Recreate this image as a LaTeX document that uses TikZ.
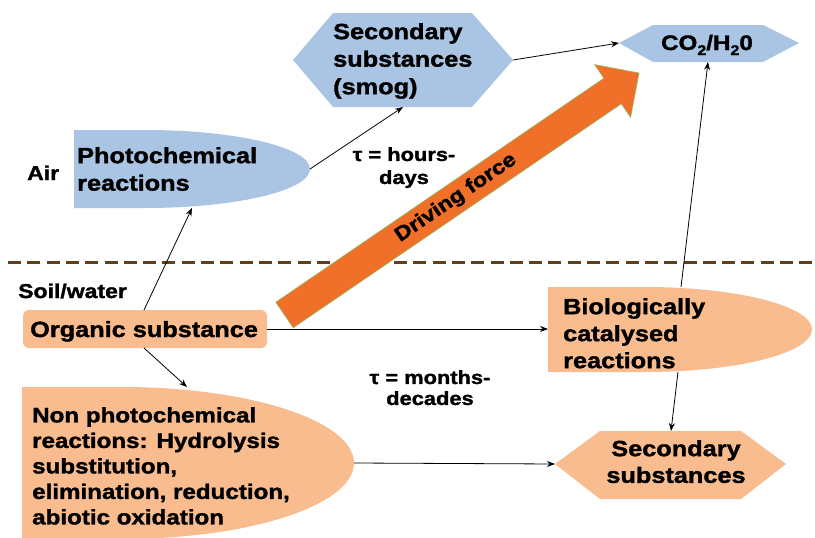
\documentclass[tikz,border=0pt]{standalone}
\usepackage{fontspec}
\setmainfont{Liberation Sans}[FakeStretch=1.15, BoldFeatures={FakeBold=1.5}]
\usetikzlibrary{arrows.meta}

\definecolor{skyfill}{RGB}{170,196,228}
\definecolor{peachfill}{RGB}{249,188,142}
\definecolor{forceorange}{RGB}{240,112,42}
\definecolor{forceedge}{RGB}{150,185,95}
\definecolor{soilline}{RGB}{99,62,26}

\tikzset{
  boxtext/.style={font=\bfseries\fontsize{22}{27.5}\selectfont, align=left, inner sep=0pt},
  sidetext/.style={font=\bfseries\fontsize{20}{24}\selectfont, inner sep=0pt},
  tautext/.style={font=\bfseries\fontsize{19}{23}\selectfont, align=center, inner sep=0pt},
  link/.style={line width=0.8pt, -{Stealth[length=8pt,width=6pt]}},
}

\begin{document}
\begin{tikzpicture}[x=1pt,y=-1pt]
\useasboundingbox (0,0) rectangle (815,538);

% ---- air compartment ----
\fill[skyfill] (293,60) -- (333,13) -- (472,13) -- (513,60) -- (472,107) -- (333,107) -- cycle;
\node[boxtext, anchor=north west] (smog) at (333,23) {Secondary\\substances\\(smog)};

\fill[skyfill] (619,43) -- (653,25) -- (763,25) -- (799,43) -- (763,62) -- (653,62) -- cycle;
\node[font=\bfseries\fontsize{21}{24}\selectfont, inner sep=0pt, anchor=base] (co2) at (707,50)
  {CO\raisebox{-5pt}{\fontsize{14}{14}\selectfont 2}/H\raisebox{-5pt}{\fontsize{14}{14}\selectfont 2}0};

\fill[skyfill] (74,130) -- (145,130) arc[start angle=90, end angle=-90, x radius=165pt, y radius=39pt] -- (74,208) -- cycle;
\node[boxtext, anchor=north west] (photo) at (77,147) {Photochemical\\reactions};

\node[sidetext, anchor=base west] (air) at (27,180) {Air};
\node[tautext, anchor=north] (tauair) at (404,147) {τ = hours-\\days};

% ---- boundary between compartments ----
\coordinate (bl) at (8,262);
\coordinate (br) at (812,262);
\draw[soilline, line width=3pt, dash pattern=on 13pt off 6.3pt] (bl) -- (br);

% ---- soil / water compartment ----
\node[sidetext, anchor=base west] (soil) at (18,298) {Soil/water};

\fill[peachfill, rounded corners=6pt] (23,310) rectangle (267,348);
\node[boxtext, anchor=base west] (org) at (30,337) {Organic substance};

\fill[peachfill] (548,287) -- (645,287) arc[start angle=90, end angle=-90, x radius=167pt, y radius=42.5pt] -- (548,372) -- cycle;
\node[boxtext, anchor=north west, font=\bfseries\fontsize{22}{27}\selectfont] (bio) at (563,298) {Biologically\\catalysed\\reactions};

\node[tautext, anchor=north, font=\bfseries\fontsize{19}{21}\selectfont] (tausoil) at (430,370) {τ = months-\\decades};

\fill[peachfill] (22,387) -- (122,387) arc[start angle=90, end angle=-90, x radius=232pt, y radius=76pt] -- (22,539) -- cycle;
\node[boxtext, anchor=north west, font=\bfseries\fontsize{21}{25.5}\selectfont] (nonph) at (32,407)
  {Non photochemical\\reactions: Hydrolysis\\substitution,\\elimination, reduction,\\abiotic oxidation};

\fill[peachfill] (555,464) -- (600,431) -- (741,431) -- (786,464) -- (741,499) -- (600,499) -- cycle;
\node[boxtext, anchor=north, align=center, font=\bfseries\fontsize{22}{26.7}\selectfont] (sec) at (676,440) {Secondary\\substances};

% ---- connector end points on the shape outlines ----
\coordinate (smog-e) at (513,60);
\coordinate (smog-s) at (403,107);
\coordinate (co2-w) at (619,43);
\coordinate (co2-s) at (708,62);
\coordinate (photo-e) at (310,169);
\coordinate (photo-s) at (192,208);
\coordinate (org-n) at (144,310);
\coordinate (org-s) at (144,348);
\coordinate (org-e) at (267,329);
\coordinate (bio-w) at (548,329);
\coordinate (bio-n) at (681,287);
\coordinate (bio-s) at (678,372);
\coordinate (nonph-n) at (187,387);
\coordinate (nonph-e) at (354,463);
\coordinate (sec-w) at (555,464);
\coordinate (sec-n) at (671,431);

\draw[link] (org-n) -- (photo-s);
\draw[link] (photo-e) -- (smog-s);
\draw[link] (smog-e) -- (co2-w);
\draw[link] (org-e) -- (bio-w);
\draw[link] (org-s) -- (nonph-n);
\draw[link] (nonph-e) -- (sec-w);
\draw[link] (bio-n) -- (co2-s);
\draw[link] (bio-s) -- (sec-n);

% ---- driving force arrow ----
\filldraw[fill=forceorange, draw=forceedge, line width=0.6pt]
  (275.8,302.2) -- (603.9,78.2) -- (594.6,64.6) -- (639,73) -- (630.6,117.4) -- (621.3,103.8) -- (293.2,327.8) -- cycle;
\node[font=\bfseries\fontsize{20}{24}\selectfont, inner sep=0pt, rotate=34.3] (force) at (456,198) {Driving force};
\end{tikzpicture}
\end{document}
